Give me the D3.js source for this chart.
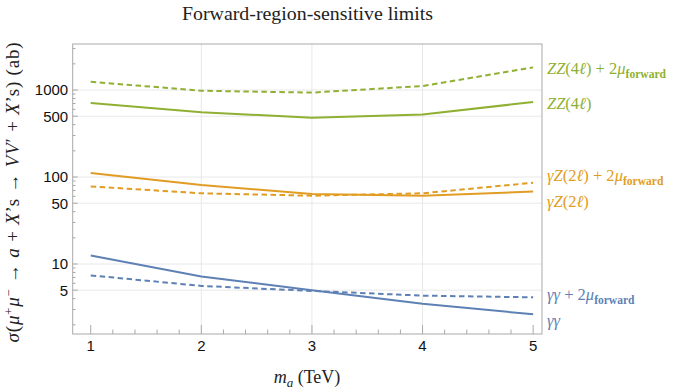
<!DOCTYPE html>
<html>
<head>
<meta charset="utf-8">
<script src="https://cdn.jsdelivr.net/npm/d3@7"></script>
<style>
  html, body { margin: 0; padding: 0; background: #fff; }
  svg { display: block; }
</style>
</head>
<body>
<svg id="chart" width="698" height="391"></svg>
<script>
// ---- data ----
const masses = [1, 2, 3, 4, 5];
const zzForward = [1245, 982, 935, 1112, 1823];
const zz = [709, 555, 481, 525, 728];
const gzForward = [78, 65, 61, 65, 86];
const gz = [111, 81, 64, 61, 68];
const ggForward = [7.4, 5.6, 4.9, 4.33, 4.14];
const gg = [12.5, 7.2, 5.0, 3.5, 2.64];
const xTickValues = [1, 2, 3, 4, 5];
const yTickLabels = [5, 10, 50, 100, 500, 1000];
const xGridValues = [2, 3, 4];

const titleText = "Forward-region-sensitive limits";

const colors = { blue: "#5E81B5", orange: "#E19C24", green: "#8FB032" };

const series = [
  { values: zzForward, color: colors.green, dashed: true,
    label: [["ZZ", "i"], ["(4", "n"], ["ℓ", "i"], [") + 2", "n"], ["μ", "i"], ["forward", "sub"]] },
  { values: zz, color: colors.green, dashed: false,
    label: [["ZZ", "i"], ["(4", "n"], ["ℓ", "i"], [")", "n"]] },
  { values: gzForward, color: colors.orange, dashed: true,
    label: [["γZ", "i"], ["(2", "n"], ["ℓ", "i"], [") + 2", "n"], ["μ", "i"], ["forward", "sub"]] },
  { values: gz, color: colors.orange, dashed: false,
    label: [["γZ", "i"], ["(2", "n"], ["ℓ", "i"], [")", "n"]] },
  { values: ggForward, color: colors.blue, dashed: true,
    label: [["γγ", "i"], [" + 2", "n"], ["μ", "i"], ["forward", "sub"]] },
  { values: gg, color: colors.blue, dashed: false,
    label: [["γγ", "i"]] }
];

// ---- layout ----
const svg = d3.select("#chart");
const plot = { left: 72.7, right: 542, top: 44, bottom: 334 };
const x = d3.scaleLinear().domain([0.837, 5.08]).range([plot.left, plot.right]);
const y = d3.scaleLog().domain([1.568, 3384]).range([plot.bottom, plot.top]);

const serif = "'Liberation Serif'";
const sans = "'Liberation Sans', Arial, sans-serif";
const frameColor = "#a9a9a9";
const gridColor = "#e8e8e8";

// grid
svg.append("g").selectAll("line").data(yTickLabels).join("line")
  .attr("x1", plot.left).attr("x2", plot.right)
  .attr("y1", d => y(d)).attr("y2", d => y(d))
  .attr("stroke", gridColor).attr("stroke-width", 1);
svg.append("g").selectAll("line").data(xGridValues).join("line")
  .attr("y1", plot.top).attr("y2", plot.bottom)
  .attr("x1", d => x(d)).attr("x2", d => x(d))
  .attr("stroke", gridColor).attr("stroke-width", 1);

// minor ticks
const yMinor = [];
[1, 10, 100, 1000].forEach(dec => {
  [2, 3, 4, 6, 7, 8, 9].forEach(m => {
    const v = m * dec;
    if (v > y.domain()[0] && v < y.domain()[1]) yMinor.push(v);
  });
});
const xMinor = [];
for (let i = 1; i < 5; i++) for (let k = 1; k < 5; k++) xMinor.push(i + k * 0.2);

// series lines
const line = d3.line().x((d, i) => x(masses[i])).y(d => y(d));
series.forEach(s => {
  svg.append("path")
    .attr("d", line(s.values))
    .attr("fill", "none")
    .attr("stroke", s.color)
    .attr("stroke-width", 2)
    .attr("stroke-dasharray", s.dashed ? "5.5,3.5" : null);
});

// frame
svg.append("rect")
  .attr("x", plot.left).attr("y", plot.top)
  .attr("width", plot.right - plot.left).attr("height", plot.bottom - plot.top)
  .attr("fill", "none").attr("stroke", frameColor).attr("stroke-width", 1);

// y axis ticks
const gy = svg.append("g");
gy.append("g").selectAll("line").data(yTickLabels).join("line")
  .attr("x1", plot.left).attr("x2", plot.left + 5)
  .attr("y1", d => y(d)).attr("y2", d => y(d))
  .attr("stroke", frameColor);
gy.append("g").selectAll("line").data(yMinor).join("line")
  .attr("x1", plot.left).attr("x2", plot.left + 2.8)
  .attr("y1", d => y(d)).attr("y2", d => y(d))
  .attr("stroke", frameColor);
gy.append("g").selectAll("text").data(yTickLabels).join("text")
  .attr("x", plot.left - 4.5).attr("y", d => y(d))
  .attr("dy", "0.36em")
  .attr("text-anchor", "end")
  .attr("font-family", sans).attr("font-size", 15)
  .attr("fill", "#111")
  .text(d => d3.format("d")(d));

// x axis ticks
const gx = svg.append("g");
gx.append("g").selectAll("line").data(xTickValues).join("line")
  .attr("x1", d => x(d)).attr("x2", d => x(d))
  .attr("y1", plot.bottom).attr("y2", plot.bottom - 9)
  .attr("stroke", frameColor);
gx.append("g").selectAll("line").data(xMinor).join("line")
  .attr("x1", d => x(d)).attr("x2", d => x(d))
  .attr("y1", plot.bottom).attr("y2", plot.bottom - 4.5)
  .attr("stroke", frameColor);
gx.append("g").selectAll("text").data(xTickValues).join("text")
  .attr("x", d => x(d)).attr("y", plot.bottom + 12)
  .attr("dy", "0.36em")
  .attr("text-anchor", "middle")
  .attr("font-family", sans).attr("font-size", 15)
  .attr("fill", "#111")
  .text(d => d);

// rich text helper
function rich(sel, parts, size) {
  let shift = 0;
  parts.forEach(([t, st]) => {
    const ts = sel.append("tspan").text(t);
    let target = 0;
    if (st === "i") ts.attr("font-style", "italic");
    if (st === "sub") {
      ts.attr("font-size", size * 0.7).attr("font-weight", "bold");
      target = size * 0.22;
    }
    if (st === "sup") {
      ts.attr("font-size", size * 0.66);
      target = -size * 0.28;
    }
    if (target !== shift) ts.attr("dy", target - shift);
    shift = target;
  });
}

// title
const title = svg.append("text")
  .attr("x", 307.5).attr("y", 13.3).attr("dy", "0.35em")
  .attr("text-anchor", "middle")
  .attr("font-family", serif).attr("font-size", 17)
  .attr("fill", "#222")
  .text(titleText);
(function fit(t, target) {
  const w = t.node().getComputedTextLength();
  t.attr("font-size", 17 * target / w);
})(title, 251);

// x label
const xl = svg.append("text")
  .attr("x", 307).attr("y", 377).attr("dy", "0.33em")
  .attr("text-anchor", "middle")
  .attr("font-family", serif).attr("font-size", 18).attr("fill", "#222");
xl.append("tspan").attr("font-style", "italic").text("m");
xl.append("tspan").attr("font-style", "italic").attr("font-size", 13).attr("dy", 4).text("a");
xl.append("tspan").attr("dy", -4).text(" (TeV)");

// y label
const ylSize = 19;
const yl = svg.append("text")
  .attr("transform", "translate(18.5,192) rotate(-90)")
  .attr("text-anchor", "middle")
  .attr("font-family", serif).attr("font-size", ylSize).attr("fill", "#222");
const ylParts = [
  ["σ", "i"], ["(", "n"], ["μ", "i"], ["+", "sup"], ["μ", "i"], ["−", "sup"],
  [" → ", "n"], ["a", "i"], [" + ", "n"], ["X", "i"], ["’s → ", "n"],
  ["VV", "i"], ["′", "n"], [" + ", "n"], ["X", "i"], ["’s) (ab)", "n"]
];
rich(yl, ylParts, ylSize);
(function spread(t, target) {
  const w = t.node().getComputedTextLength();
  const n = ylParts.map(p => p[0]).join("").length;
  const ls = Math.max(0, Math.min(0.8, (target - w) / n));
  t.attr("letter-spacing", ls);
})(yl, 328);

// right-side labels with simple collision avoidance
const labelSize = 16.5;
const minSep = 25.5;
const items = series.map(s => ({ s, y0: y(s.values[s.values.length - 1]) }));
items.sort((a, b) => a.y0 - b.y0);
items.forEach(it => it.y = it.y0);
for (let iter = 0; iter < 50; iter++) {
  for (let i = 1; i < items.length; i++) {
    const a = items[i - 1], b = items[i];
    const gap = b.y - a.y;
    if (gap < minSep) {
      const push = (minSep - gap) / 2;
      a.y -= push; b.y += push;
    }
  }
}
items.forEach(it => {
  const t = svg.append("text")
    .attr("x", plot.right + 5).attr("y", it.y + 2)
    .attr("dy", "0.3em")
    .attr("font-family", serif).attr("font-size", labelSize)
    .attr("fill", it.s.color);
  rich(t, it.s.label, labelSize);
});
</script>
</body>
</html>
